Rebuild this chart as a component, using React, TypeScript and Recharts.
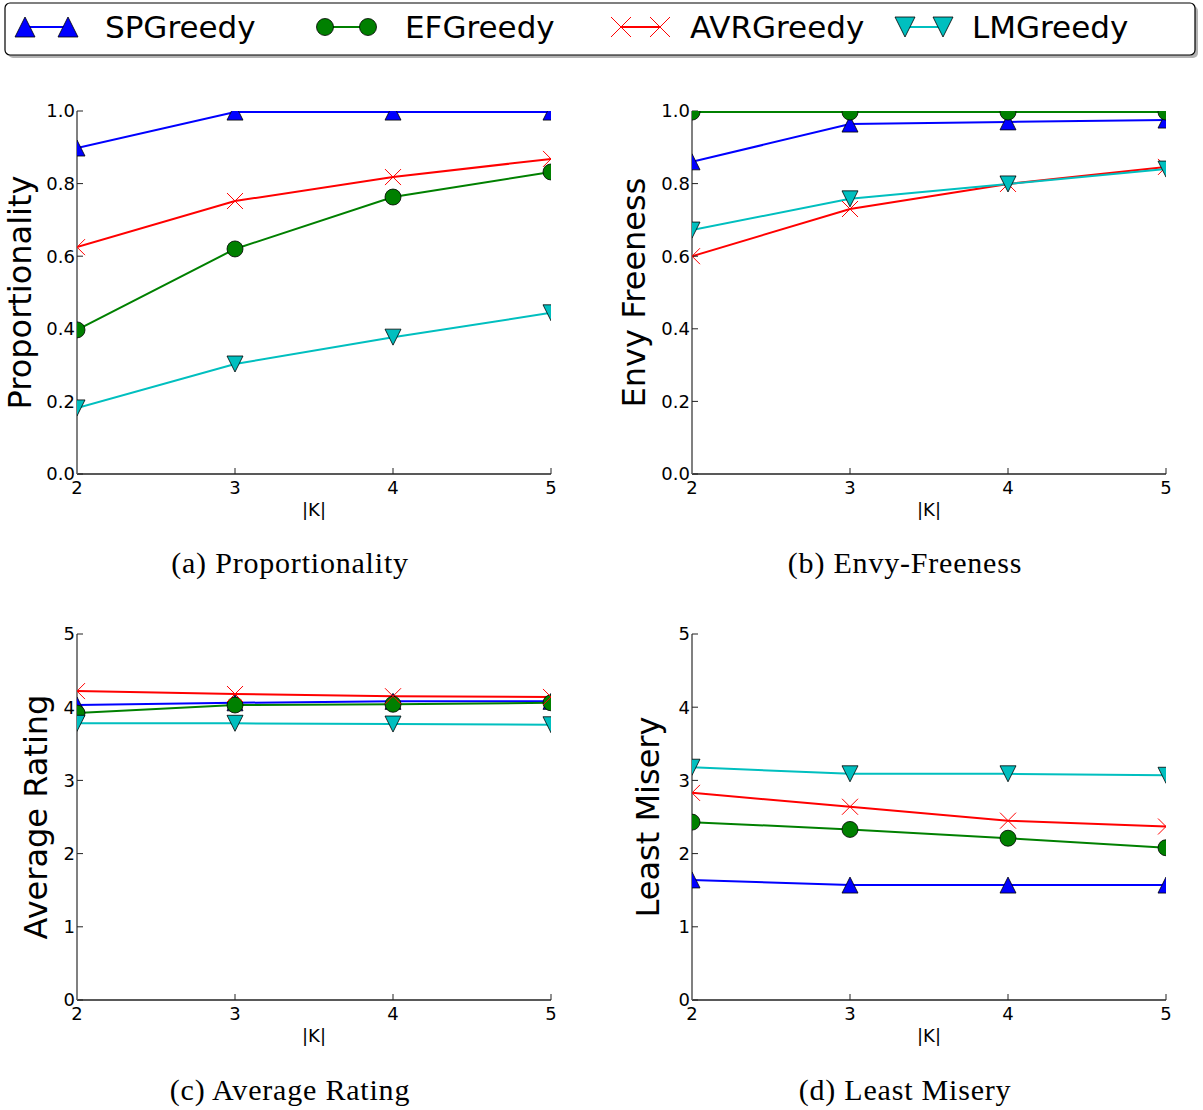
import React from 'react';
import { LineChart, Line, XAxis, YAxis, Label } from 'recharts';

// |K| values shared by all four panels
const kValues = [2, 3, 4, 5];

// (a) Proportionality
const propSP = [0.898, 0.997, 0.997, 0.997];
const propEF = [0.397, 0.62, 0.763, 0.832];
const propAVR = [0.625, 0.752, 0.818, 0.868];
const propLM = [0.182, 0.303, 0.377, 0.444];

// (b) Envy-Freeness
const envySP = [0.86, 0.964, 0.97, 0.975];
const envyEF = [0.997, 0.997, 0.997, 0.997];
const envyAVR = [0.6, 0.73, 0.799, 0.846];
const envyLM = [0.672, 0.758, 0.799, 0.84];

// (c) Average Rating
const avgSP = [4.03, 4.06, 4.08, 4.08];
const avgEF = [3.92, 4.03, 4.04, 4.06];
const avgAVR = [4.22, 4.18, 4.15, 4.14];
const avgLM = [3.78, 3.78, 3.77, 3.76];

// (d) Least Misery
const miseSP = [1.64, 1.57, 1.57, 1.57];
const miseEF = [2.43, 2.33, 2.21, 2.08];
const miseAVR = [2.83, 2.64, 2.45, 2.37];
const miseLM = [3.18, 3.09, 3.09, 3.07];

const ratioTicks = [0, 0.2, 0.4, 0.6, 0.8, 1.0];
const ratingTicks = [0, 1, 2, 3, 4, 5];

const seriesNames = ['SPGreedy', 'EFGreedy', 'AVRGreedy', 'LMGreedy'];

const SANS = '"DejaVu Sans", sans-serif';
const SERIF = '"Liberation Serif", serif';

type Kind = 'up' | 'circle' | 'x' | 'down';

const styles: { key: string; color: string; kind: Kind }[] = [
  { key: 'sp', color: '#0000ff', kind: 'up' },
  { key: 'ef', color: '#008000', kind: 'circle' },
  { key: 'avr', color: '#ff0000', kind: 'x' },
  { key: 'lm', color: '#00bfbf', kind: 'down' },
];

const makeRows = (sp: number[], ef: number[], avr: number[], lm: number[]) =>
  kValues.map((k, i) => ({ k, sp: sp[i], ef: ef[i], avr: avr[i], lm: lm[i] }));

const Marker = ({ kind, cx, cy, color, s }: { kind: Kind; cx: number; cy: number; color: string; s: number }) => {
  if (kind === 'up')
    return <polygon points={`${cx},${cy - s} ${cx - s},${cy + s} ${cx + s},${cy + s}`} fill={color} stroke="#000" strokeWidth={0.8} />;
  if (kind === 'down')
    return <polygon points={`${cx},${cy + s} ${cx - s},${cy - s} ${cx + s},${cy - s}`} fill={color} stroke="#000" strokeWidth={0.8} />;
  if (kind === 'circle') return <circle cx={cx} cy={cy} r={s} fill={color} stroke="#000" strokeWidth={0.8} />;
  return (
    <g stroke={color} strokeWidth={1}>
      <line x1={cx - s} y1={cy - s} x2={cx + s} y2={cy + s} />
      <line x1={cx - s} y1={cy + s} x2={cx + s} y2={cy - s} />
    </g>
  );
};

type PanelProps = {
  left: number;
  top: number;
  rows: any[];
  ticks: number[];
  fmt: (v: number) => string;
  yLabel: string;
  labelX: number;
  bottom: number;
};

const Panel = ({ left, top, rows, ticks, fmt, yLabel, labelX, bottom }: PanelProps) => {
  const domain = [ticks[0], ticks[ticks.length - 1]];
  const tickStyle = { fill: '#000', fontSize: 18, fontFamily: SANS };
  return (
    <div style={{ position: 'absolute', left, top }}>
      <LineChart width={600} height={460} data={rows} margin={{ top: 21, right: 49, left: 0, bottom }}>
        <XAxis
          dataKey="k"
          type="number"
          domain={[2, 5]}
          ticks={kValues}
          interval={0}
          allowDataOverflow
          height={30}
          tickSize={-6}
          tickMargin={13}
          axisLine={{ stroke: '#222', strokeWidth: 1.5 }}
          tickLine={{ stroke: '#222' }}
          tick={tickStyle}
        >
          <Label
            content={(p: any) => {
              const vb = p.viewBox || { x: 77, y: 363, width: 474 };
              return (
                <text x={vb.x + vb.width / 2} y={vb.y + 42} textAnchor="middle" fontSize={18} fontFamily={SANS} fill="#000">
                  |K|
                </text>
              );
            }}
          />
        </XAxis>
        <XAxis
          xAxisId="top"
          orientation="top"
          type="number"
          domain={[2, 5]}
          ticks={kValues}
          interval={0}
          height={0}
          tickSize={-6}
          tick={false}
          axisLine={{ stroke: '#222', strokeWidth: 1.5 }}
          tickLine={{ stroke: '#222' }}
        />
        <YAxis
          type="number"
          domain={domain}
          ticks={ticks}
          interval={0}
          allowDataOverflow
          width={77}
          tickSize={-6}
          tickMargin={8}
          tickFormatter={fmt}
          axisLine={{ stroke: '#808080', strokeWidth: 2 }}
          tickLine={{ stroke: '#222' }}
          tick={tickStyle}
        >
          <Label
            content={(p: any) => {
              const vb = p.viewBox || { y: 21, height: 363 };
              const cy = vb.y + vb.height / 2;
              return (
                <text
                  x={labelX}
                  y={cy}
                  transform={`rotate(-90, ${labelX}, ${cy})`}
                  textAnchor="middle"
                  fontSize={32}
                  fontFamily={SANS}
                  fill="#000"
                >
                  {yLabel}
                </text>
              );
            }}
          />
        </YAxis>
        <YAxis
          yAxisId="right"
          orientation="right"
          type="number"
          domain={domain}
          ticks={ticks}
          interval={0}
          width={0}
          tickSize={-6}
          tick={false}
          axisLine={{ stroke: '#222', strokeWidth: 1.5 }}
          tickLine={{ stroke: '#222' }}
        />
        {styles.map((s) => (
          <Line
            key={s.key}
            dataKey={s.key}
            type="linear"
            stroke={s.color}
            strokeWidth={2}
            isAnimationActive={false}
            dot={(d: any) => <Marker key={`${s.key}-${d.index}`} kind={s.kind} cx={d.cx} cy={d.cy} color={s.color} s={8} />}
            activeDot={false}
          />
        ))}
      </LineChart>
    </div>
  );
};

const Legend = () => {
  const items = [
    { m1: 25, m2: 68, tx: 105 },
    { m1: 325, m2: 368, tx: 405 },
    { m1: 621, m2: 660, tx: 690 },
    { m1: 905, m2: 943, tx: 972 },
  ];
  return (
    <svg width={1203} height={62} style={{ position: 'absolute', left: 0, top: 0 }}>
      <rect x={8} y={6} width={1190} height={52} rx={5} fill="#808080" opacity={0.6} />
      <rect x={5} y={3} width={1190} height={52} rx={5} fill="#fff" stroke="#000" strokeWidth={1.2} />
      {items.map((it, i) => {
        const st = styles[i];
        return (
          <g key={st.key}>
            <line x1={it.m1} y1={27} x2={it.m2} y2={27} stroke={st.color} strokeWidth={2} />
            <Marker kind={st.kind} cx={it.m1} cy={27} color={st.color} s={st.kind === 'circle' ? 8.5 : 10} />
            <Marker kind={st.kind} cx={it.m2} cy={27} color={st.color} s={st.kind === 'circle' ? 8.5 : 10} />
            <text x={it.tx} y={38} fontSize={31} fontFamily={SANS} fill="#000">
              {seriesNames[i]}
            </text>
          </g>
        );
      })}
    </svg>
  );
};

const Caption = ({ text, cx, top }: { text: string; cx: number; top: number }) => (
  <div
    style={{
      position: 'absolute',
      left: cx - 200,
      top,
      width: 400,
      textAlign: 'center',
      fontFamily: SERIF,
      fontSize: 30,
      lineHeight: '34px',
      letterSpacing: 0.8,
      color: '#000',
    }}
  >
    {text}
  </div>
);

const ratioFmt = (v: number) => v.toFixed(1);
const ratingFmt = (v: number) => String(v);

export default function App() {
  return (
    <div style={{ position: 'absolute', left: 0, top: 0, width: 1203, height: 1110, background: '#fff', overflow: 'hidden' }}>
      <Legend />
      <Panel left={0} top={90} rows={makeRows(propSP, propEF, propAVR, propLM)} ticks={ratioTicks} fmt={ratioFmt} yLabel="Proportionality" labelX={31} bottom={46} />
      <Panel left={615} top={90} rows={makeRows(envySP, envyEF, envyAVR, envyLM)} ticks={ratioTicks} fmt={ratioFmt} yLabel="Envy Freeness" labelX={30} bottom={46} />
      <Panel left={0} top={613} rows={makeRows(avgSP, avgEF, avgAVR, avgLM)} ticks={ratingTicks} fmt={ratingFmt} yLabel="Average Rating" labelX={47} bottom={43} />
      <Panel left={615} top={613} rows={makeRows(miseSP, miseEF, miseAVR, miseLM)} ticks={ratingTicks} fmt={ratingFmt} yLabel="Least Misery" labelX={44} bottom={43} />
      <Caption text="(a) Proportionality" cx={290} top={546} />
      <Caption text="(b) Envy-Freeness" cx={905} top={546} />
      <Caption text="(c) Average Rating" cx={290} top={1073} />
      <Caption text="(d) Least Misery" cx={905} top={1073} />
    </div>
  );
}
